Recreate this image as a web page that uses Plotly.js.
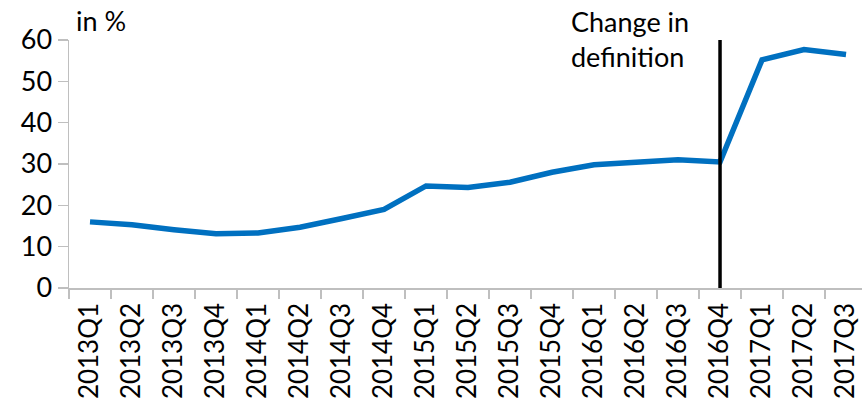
<!DOCTYPE html>
<html>
<head>
<meta charset="utf-8">
<script src="https://cdn.plot.ly/plotly-3.0.1.min.js"></script>
<style>html,body{margin:0;padding:0;background:#fff;}#chart{width:862px;height:404px;}</style>
</head>
<body>
<div id="chart"></div>
<script>
const quarters = ["2013Q1","2013Q2","2013Q3","2013Q4","2014Q1","2014Q2","2014Q3","2014Q4","2015Q1","2015Q2","2015Q3","2015Q4","2016Q1","2016Q2","2016Q3","2016Q4","2017Q1","2017Q2","2017Q3"];
const shareValues = [16.0,15.3,14.1,13.1,13.3,14.7,16.8,19.0,24.7,24.3,25.6,28.0,29.8,30.4,31.0,30.5,55.2,57.7,56.5];
const breakQuarter = "2016Q4";
const yTicks = [0,10,20,30,40,50,60];

const fontFamily = "Lato, 'Open Sans', sans-serif";
const fs = 27;
const data = [{
  type: 'scatter', mode: 'lines',
  x: quarters, y: shareValues,
  line: {color: '#0070C0', width: 5.5},
  hoverinfo: 'skip'
}];
const layout = {
  width: 862, height: 404,
  margin: {l: 69, r: 0, t: 40, b: 116},
  paper_bgcolor: '#fff', plot_bgcolor: '#fff',
  showlegend: false,
  font: {family: fontFamily, size: fs, color: '#000'},
  xaxis: {
    type: 'category', categoryorder: 'array', categoryarray: quarters,
    range: [-0.5, 18.38],
    tickson: 'boundaries', ticks: 'outside', ticklen: 9, tickwidth: 1.5, tickcolor: '#BFBFBF',
    showline: true, linecolor: '#BFBFBF', linewidth: 1.5,
    showgrid: false, zeroline: false, tickangle: -90,
    ticklabelstandoff: 3,
    tickfont: {family: fontFamily, size: 26, color: '#000'}
  },
  yaxis: {
    range: [0, 60], tickvals: yTicks, ticktext: yTicks.map(String),
    ticks: 'outside', ticklen: 10, tickwidth: 1.5, tickcolor: '#BFBFBF',
    showline: true, linecolor: '#BFBFBF', linewidth: 1.5,
    showgrid: false, zeroline: false,
    tickfont: {family: fontFamily, size: fs, color: '#000'}
  },
  shapes: [{
    type: 'line', xref: 'x', yref: 'y',
    x0: breakQuarter, x1: breakQuarter, y0: 0, y1: 60,
    line: {color: '#000', width: 3.5}
  }],
  annotations: [
    {text: 'in %', xref: 'paper', yref: 'paper', x: 0.006, y: 1.08, xanchor: 'left', yanchor: 'middle', showarrow: false, font: {family: fontFamily, size: fs, color: '#000'}},
    {text: 'Change in<br>definition', xref: 'paper', yref: 'paper', x: 0.63, y: 1.15, xanchor: 'left', yanchor: 'top', align: 'left', showarrow: false, font: {family: fontFamily, size: fs, color: '#000'}}
  ]
};
Plotly.newPlot('chart', data, layout, {displayModeBar: false, staticPlot: true});
</script>
</body>
</html>
